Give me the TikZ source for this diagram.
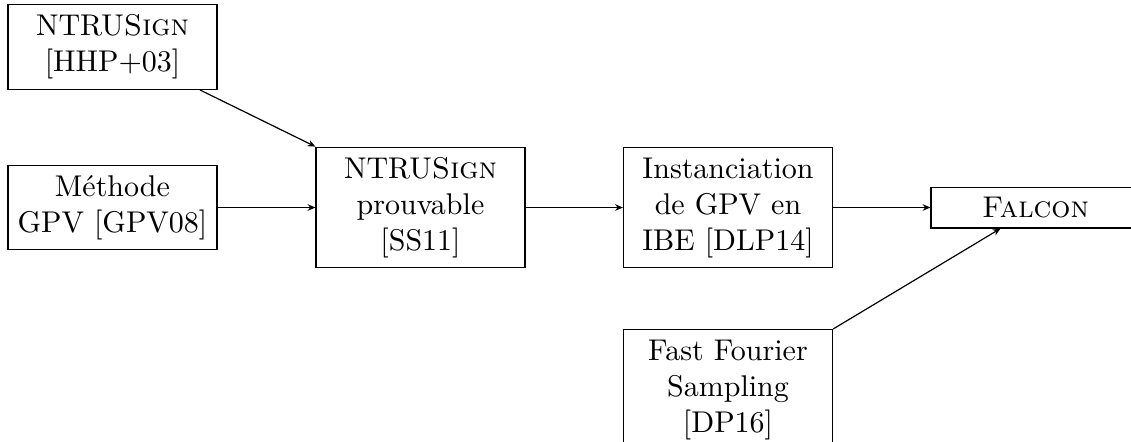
\documentclass[tikz,border=0pt]{standalone}
\usetikzlibrary{arrows.meta}
\begin{document}
\begin{tikzpicture}[x=0.3333pt,y=-0.3333pt,
  box/.style={draw,text width=63pt,align=center,inner xsep=3.33pt,inner ysep=3.33pt,line width=0.4pt,font=\normalsize},
  link/.style={-{Stealth[length=2.6pt,width=2.2pt]},line width=0.4pt}]
\useasboundingbox (0,0) rectangle (1131,441);
\node[box] (ntru) at (112.5,47) {NTRU\textsc{Sign}\\\mbox{[HHP+03]}};
\node[box] (gpv) at (112.5,207.5) {Méthode\\\makebox[63pt][c]{GPV [GPV08]}};
\node[box] (prouv) at (420.5,207.5) {NTRU\textsc{Sign} prouvable [SS11]};
\node[box] (ibe) at (728,207.5) {Instanciation de GPV en IBE [DLP14]};
\node[box] (falcon) at (1035.5,207.5) {\textsc{Falcon}};
\node[box,anchor=north] (ffs) at (728,329) {Fast Fourier Sampling [DP16]};
\draw[link] (ntru) -- (prouv.north west);
\draw[link] (gpv) -- (prouv);
\draw[link] (prouv) -- (ibe);
\draw[link] (ibe) -- (falcon);
\draw[link] (ffs.north east) -- (falcon);
\end{tikzpicture}
\end{document}
